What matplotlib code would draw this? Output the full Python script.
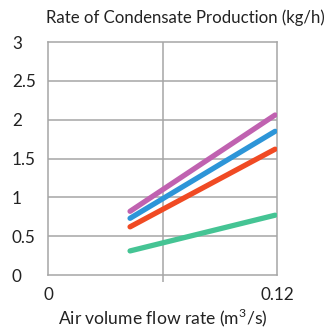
import numpy as np
import matplotlib
matplotlib.use("Agg")
import matplotlib.pyplot as plt

plt.rcParams['font.family'] = ['Lato', 'DejaVu Sans']
plt.rcParams['mathtext.fontset'] = 'custom'
plt.rcParams['mathtext.rm'] = 'Lato'

# flow rate at start and end of each line (m3/s)
flow = [0.043, 0.119]
purple = [0.82, 2.06]
blue = [0.73, 1.85]
red = [0.62, 1.62]
green = [0.31, 0.77]
series = [(green, '#45c494'), (red, '#f04a23'), (blue, '#2d95d8'), (purple, '#c062b0')]

yticks = [0, 0.5, 1, 1.5, 2, 2.5, 3]
ylabels = ['0', '0.5', '1', '1.5', '2', '2.5', '3']
xticks = [0, 0.12]
xlabels = ['0', '0.12']

fig = plt.figure(figsize=(3.3, 3.29), dpi=100)
ax = fig.add_axes([48/330, 1-275/329, 229/330, 233/329])

gc = '#a6a6a6'
for v in yticks[1:-1]:
	ax.axhline(v, color=gc, lw=1.1, zorder=1)
ax.axvline(0.06, color=gc, lw=1.1, zorder=1)

for vals, c in series:
	ax.plot(flow, vals, color=c, lw=3.8, solid_capstyle='round', zorder=3)

ax.set_xlim(0, 0.12)
ax.set_ylim(0, 3)
for s in ax.spines.values():
	s.set_color(gc)
	s.set_linewidth(1.1)

ax.set_yticks(yticks)
ax.set_yticklabels(ylabels, ha='left')
ax.set_xticks(xticks)
ax.set_xticklabels(xlabels)
ax.tick_params(axis='y', length=0, pad=26, labelsize=12.3, colors='#222222')
ax.tick_params(axis='x', length=0, pad=9, labelsize=12.3, colors='#222222')

# the odd little tick marks
ax.set_yticks([2.5], minor=True)
ax.set_xticks([0.06], minor=True)
ax.tick_params(which='minor', length=5, width=1.1, color=gc, labelleft=False, labelbottom=False)

ax.set_xlabel(r'Air volume flow rate (m$^{\mathregular{3}}$/s)', fontsize=12.6, color='#222222', labelpad=2)
fig.text(46/330, 1-18/329, 'Rate of Condensate Production (kg/h)', fontsize=12.1,
	color='#222222', ha='left', va='center')

fig.savefig('out.png', dpi=100)
